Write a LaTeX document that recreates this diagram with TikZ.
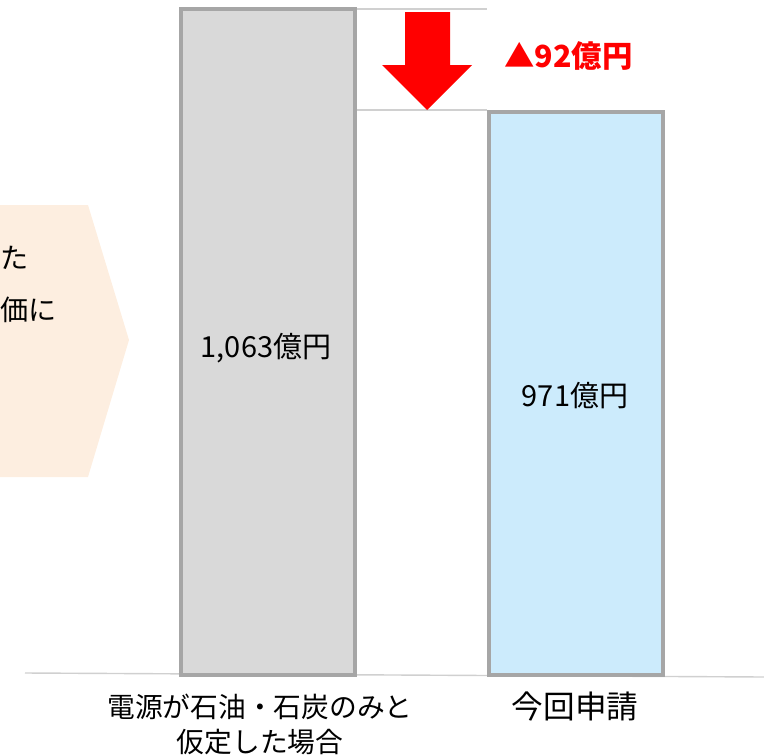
\documentclass[tikz,border=0pt]{standalone}
\usepackage{fontspec}
\setmainfont{Noto Sans CJK JP}
\usepackage{xcolor}
\definecolor{barborder}{HTML}{A6A6A6}
\definecolor{greybar}{HTML}{D9D9D9}
\definecolor{bluebar}{HTML}{CCEBFC}
\definecolor{peach}{HTML}{FDEEE0}
\definecolor{guide}{HTML}{D0D0D0}
\tikzset{
  bar/.style={draw=barborder,line width=2.4pt},
  barlabel/.style={font=\fontsize{16.5}{18}\selectfont},
  axislabel/.style={font=\fontsize{15.8}{20}\selectfont,align=center,anchor=north},
}

\begin{document}
\begin{tikzpicture}[x=0.02cm,y=-0.02cm]
			\useasboundingbox (0,0) rectangle (764,754);
			\clip (0,0) rectangle (764,754);
			% left hint box
			\fill[peach] (-10,205) -- (88,205) -- (129,340) -- (88,477) -- (-10,477) -- cycle;
			\node[anchor=west,inner sep=0pt,font=\fontsize{16}{18}\selectfont] (hintA) at (0,258) {た};
			\node[anchor=west,inner sep=0pt,font=\fontsize{16}{18}\selectfont] (hintB) at (0,310) {価に};
			% baseline
			\coordinate (base0) at (25,673);
			\coordinate (base1) at (764,677);
			\draw[guide,line width=0.8pt] (base0) -- (base1);
			% bars
			\draw[bar,fill=greybar] (181,675) rectangle (355,9);
			\draw[bar,fill=bluebar] (489,675) rectangle (663,112);
			\node[barlabel] (valA) at (266,348) {1,063億円};
			\node[barlabel] (valB) at (575,396) {971億円};
			% guide lines
			\coordinate (topA) at (357,9);
			\coordinate (topB) at (487,9);
			\coordinate (lowA) at (357,110);
			\coordinate (lowB) at (487,110);
			\draw[guide,line width=0.8pt] (topA) -- (topB);
			\draw[guide,line width=0.8pt] (lowA) -- (lowB);
			% drop arrow
			\fill[red] (405,12) -- (450,12) -- (450,65) -- (472,65) -- (427,110) -- (382,65) -- (405,65) -- cycle;
			\node[anchor=west,text=red,font=\fontsize{17.3}{19}\selectfont\bfseries] (drop) at (498,56) {▲92億円};
			% category labels
			\node[axislabel] (catA) at (260,688) {電源が石油・石炭のみと\\仮定した場合};
			\node[axislabel,font=\fontsize{18}{20}\selectfont] (catB) at (575,686) {今回申請};
		\end{tikzpicture}
\end{document}
